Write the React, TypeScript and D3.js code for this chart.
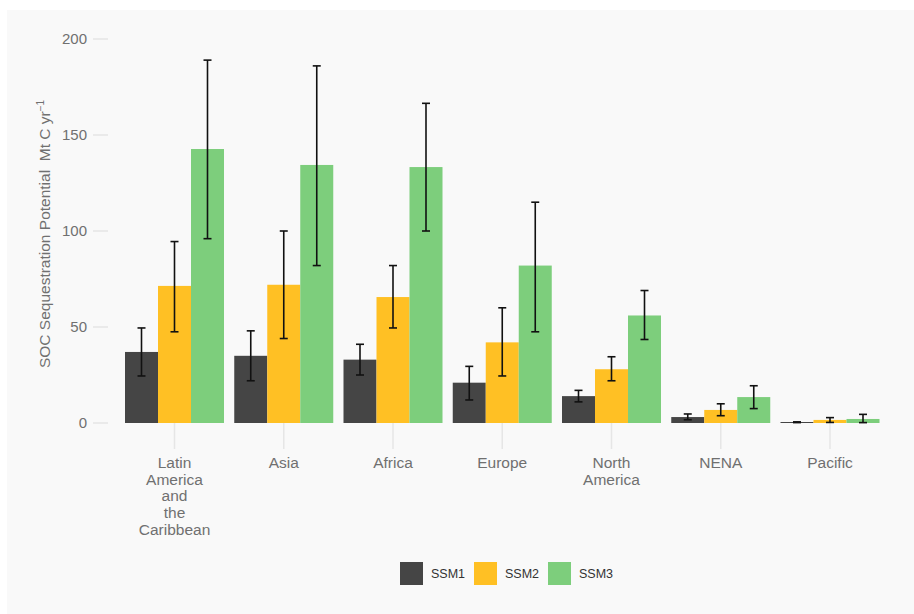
import React from "react";
import * as d3 from "d3";

const categories = ["Latin America and the Caribbean", "Asia", "Africa", "Europe", "North America", "NENA", "Pacific"];
const categoryLines = [["Latin", "America", "and", "the", "Caribbean"], ["Asia"], ["Africa"], ["Europe"], ["North", "America"], ["NENA"], ["Pacific"]];
const seriesNames = ["SSM1", "SSM2", "SSM3"];
const seriesColors = ["#454545", "#FFC024", "#7DCE7C"];
const ssm1 = [37, 35, 33, 21, 14, 3.1, 0.4];
const ssm1Low = [24.5, 22, 25, 12, 11, 1.7, 0.2];
const ssm1High = [49.5, 48, 41, 29.5, 17, 4.7, 0.6];
const ssm2 = [71.4, 72, 65.6, 42, 28, 6.8, 1.6];
const ssm2Low = [47.5, 44, 49.5, 24.5, 22, 3.8, 0.3];
const ssm2High = [94.5, 100, 82, 60, 34.5, 10, 2.8];
const ssm3 = [142.7, 134.4, 133.3, 82, 56, 13.5, 2.1];
const ssm3Low = [96, 82, 100, 47.5, 43.5, 7.5, 0.2];
const ssm3High = [189, 186, 166.5, 115, 69, 19.4, 4.5];
const yTicks = [0, 50, 100, 150, 200];

const values = [ssm1, ssm2, ssm3];
const lows = [ssm1Low, ssm2Low, ssm3Low];
const highs = [ssm1High, ssm2High, ssm3High];

export default function App() {
  const W = 914, H = 614;
  const xc = d3.scalePoint<string>().domain(categories).range([174.5, 830]);
  const bw = 99;
  const y = d3.scaleLinear().domain([0, 200]).range([423, 39]);
  const sub = d3.scaleBand<string>().domain(seriesNames).range([-bw / 2, bw / 2]);
  const font = "'Liberation Sans', Arial, sans-serif";
  return (
    <svg width={W} height={H} style={{ position: "absolute", left: 0, top: 0 }} fontFamily={font}>
      <rect x={7} y={10} width={W - 7} height={H - 10} fill="#f9f9f9" />
      {yTicks.map((t) => (
        <g key={t}>
          <line x1={93} x2={108} y1={y(t)} y2={y(t)} stroke="#e4e4e4" strokeWidth={1.5} />
          <text x={87} y={y(t)} dy="0.35em" textAnchor="end" fontSize={15} fill="#707070">{t}</text>
        </g>
      ))}
      {categories.map((c, i) => {
        const cx = xc(c) as number;
        return (
          <g key={c}>
            <line x1={cx} x2={cx} y1={423} y2={449} stroke="#e6e6e6" strokeWidth={1.5} />
            {categoryLines[i].map((l, j) => (
              <text key={j} x={cx} y={468 + j * 16.7} textAnchor="middle" fontSize={15.5} fill="#707070">{l}</text>
            ))}
          </g>
        );
      })}
      {seriesNames.map((s, si) =>
        categories.map((c, i) => {
          const bx = (xc(c) as number) + (sub(s) as number);
          const v = values[si][i];
          const top = y(v);
          const h = Math.max(1, y(0) - top);
          return (
            <rect key={s + c} x={bx} y={Math.min(top, y(0) - 1)} width={sub.bandwidth()} height={h} fill={seriesColors[si]} />
          );
        })
      )}
      {seriesNames.map((s, si) =>
        categories.map((c, i) => {
          const ex = (xc(c) as number) + (sub(s) as number) + sub.bandwidth() / 2;
          const lo = y(lows[si][i]);
          const hi = y(highs[si][i]);
          return (
            <g key={"e" + s + c} stroke="#111" strokeWidth={1.6}>
              <line x1={ex} x2={ex} y1={lo} y2={hi} />
              <line x1={ex - 4} x2={ex + 4} y1={lo} y2={lo} />
              <line x1={ex - 4} x2={ex + 4} y1={hi} y2={hi} />
            </g>
          );
        })
      )}
      <text transform={`translate(50,234) rotate(-90)`} textAnchor="middle" fontSize={15.5} fill="#707070">
        {"SOC Sequestration Potential\u00a0\u00a0Mt C yr"}<tspan dy="-6" fontSize={10}>−1</tspan>
      </text>
      {seriesNames.map((s, si) => {
        const lx = 400 + si * 74;
        return (
          <g key={s}>
            <rect x={lx} y={562} width={23} height={23} fill={seriesColors[si]} />
            <text x={lx + 31} y={573.5} dy="0.35em" fontSize={12.5} fill="#333">{s}</text>
          </g>
        );
      })}
    </svg>
  );
}
